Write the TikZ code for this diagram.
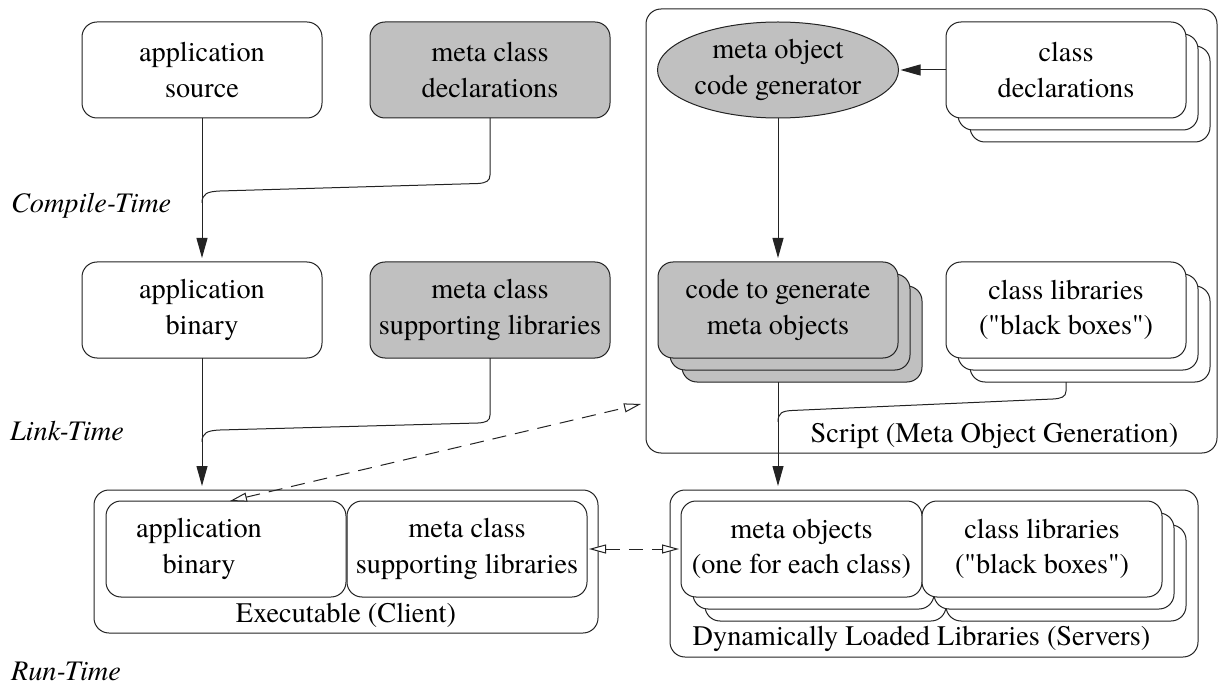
\documentclass[tikz,border=0pt]{standalone}
\usepackage{fontspec}
\setmainfont{texgyretermes-regular.otf}[ItalicFont=texgyretermes-italic.otf, BoldFont=texgyretermes-bold.otf]
\newfontfamily\plainq{texgyretermes-regular.otf}
\usetikzlibrary{arrows.meta,shapes.geometric}
\definecolor{boxgray}{RGB}{192,192,192}
\definecolor{linecol}{RGB}{35,35,35}
\newcommand{\qq}{{\plainq\symbol{34}}}
\begin{document}
\begin{tikzpicture}[x=1pt,y=-1pt,
  font=\fontsize{28.3}{35.5}\selectfont,
  every node/.style={inner sep=0pt, outer sep=0pt},
  box/.style={draw=linecol, line width=1pt, rounded corners=15pt, fill=white,
    minimum width=240pt, minimum height=96pt, align=center},
  graybox/.style={box, fill=boxgray},
  frame/.style={draw=linecol, line width=1pt, rounded corners=15pt},
  genshape/.style={ellipse, draw=linecol, line width=1pt, fill=boxgray,
    minimum width=241pt, minimum height=96pt, align=center},
  link/.style={draw=linecol, line width=1pt},
  arr/.style={link, -{Triangle[length=20pt,width=11pt]}, shorten >=4pt},
  dashlink/.style={link, dash pattern=on 14pt off 9pt,
    {Triangle[open,length=17pt,width=9pt,fill=white]}-{Triangle[open,length=17pt,width=9pt,fill=white]}},
  timelbl/.style={font=\fontsize{28.3}{35.5}\selectfont\itshape, anchor=base west},
  txt/.style={align=center},
]
\useasboundingbox (0,0) rectangle (1219,687);

% ---------- left column ----------
\node[box] (as) at (202,70) {application\\source};
\node[graybox] (mcd) at (490,70) {meta class\\declarations};
\node[box] (ab) at (202,310) {application\\binary};
\node[graybox] (mcs) at (490,310) {meta class\\supporting libraries};

% time labels
\node[timelbl] (ct) at (11,213) {Compile-Time};
\node[timelbl] (lt) at (10,440) {Link-Time};
\node[timelbl] (rt) at (11,680) {Run-Time};

% ---------- Script frame ----------
\node[frame, minimum width=571pt, minimum height=444pt] (script) at (931.5,231) {};
\node[anchor=base] (scriptlbl) at (994.5,442) {Script (Meta Object Generation)};

\node[genshape] (gen) at (778,70) {meta object\\code generator};

\node[box] (cd3) at (1090,94) {};
\node[box] (cd2) at (1078,82) {};
\node[box] (cd1) at (1066,70) {class\\declarations};

\node[graybox] (cg3) at (802,334) {};
\node[graybox] (cg2) at (790,322) {};
\node[graybox] (cg1) at (778,310) {code to generate\\meta objects};

\node[box] (cl3) at (1090,334) {};
\node[box] (cl2) at (1078,322) {};
\node[box] (cl1) at (1066,310) {class libraries\\(\qq black boxes\qq)};

% ---------- Executable ----------
\node[frame, minimum width=504pt, minimum height=143pt] (exe) at (346,561.5) {};
\node[box] (abi) at (226,549) {};
\node[txt] (abit) at (199,549) {application\\binary};
\node[box] (msl) at (467,549) {meta class\\supporting libraries};
\node[anchor=base] (exelbl) at (346,622) {Executable (Client)};

% ---------- Dynamically loaded libraries ----------
\node[frame, minimum width=528pt, minimum height=167pt] (dll) at (934,573.5) {};
\node[box, minimum width=241pt] (mo3) at (825.5,573) {};
\node[box, minimum width=241pt] (mo2) at (813.5,561) {};
\node[box, minimum width=241pt] (mo1) at (801.5,549) {meta objects\\(one for each class)};
\node[box] (dl3) at (1066,573) {};
\node[box] (dl2) at (1054,561) {};
\node[box] (dl1) at (1042,549) {class libraries\\(\qq black boxes\qq)};
\node[anchor=base] (dlllbl) at (921.5,645) {Dynamically Loaded Libraries (Servers)};

% ---------- connectors ----------
\coordinate (j1) at (202,203);
\coordinate (j2) at (202,442);
\coordinate (j3) at (778,422);
\coordinate (sp) at (641,404);

\draw[arr] (as.south) -- (ab.north);
\draw[link] (mcd.south) -- (490,175) .. controls (490,181) and (486,183) .. (478,183.5)
  -- (220,191) .. controls (207,191.5) and (202,194) .. (j1);

\draw[arr] (ab.south) -- (ab.south |- exe.north);
\draw[link] (mcs.south) -- (490,415) .. controls (490,421) and (486,422.5) .. (478,423)
  -- (220,430) .. controls (207,430.5) and (202,433) .. (j2);

\draw[arr, shorten >=2pt] (cd1.west) -- (gen.east);
\draw[arr] (gen.south) -- (cg1.north);
\draw[arr] (cg1.south |- cg3.south) -- (cg1.south |- dll.north);
\draw[link] (cl1.south |- cl3.south) -- (1066,391) .. controls (1066,397) and (1061,398.5) .. (1053,399)
  -- (792,410.5) .. controls (782,411) and (778,413) .. (j3);

\draw[dashlink] ([xshift=4pt]abi.north) -- (sp);
\draw[dashlink, shorten <=2pt, shorten >=2pt] (msl.east) -- (mo1.west);
\end{tikzpicture}
\end{document}
